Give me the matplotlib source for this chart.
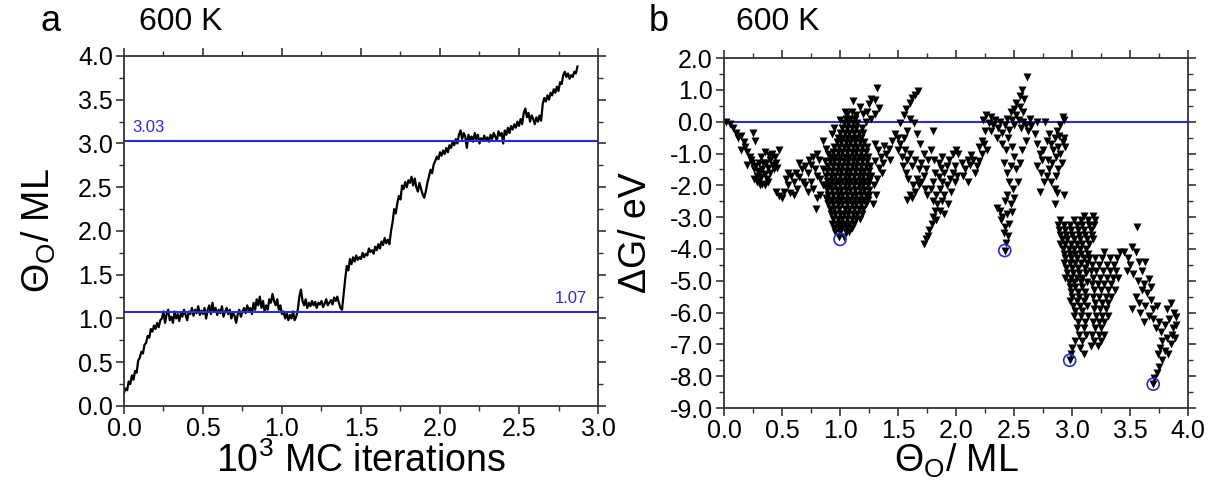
import numpy as np
import matplotlib
matplotlib.use("Agg")
import matplotlib.pyplot as plt
from matplotlib.ticker import MultipleLocator, FormatStrFormatter

plt.rcParams['font.family'] = ['Liberation Sans', 'DejaVu Sans']
plt.rcParams['mathtext.fontset'] = 'custom'
plt.rcParams['mathtext.rm'] = 'Liberation Sans'

# ---------------- panel a: coverage vs MC iterations ----------------
mc_step = 0.01  # 10^3 MC iterations per sample
coverage = [
    0.15, 0.20, 0.18, 0.28, 0.25, 0.35, 0.30, 0.40, 0.38, 0.52,
    0.55, 0.62, 0.60, 0.70, 0.72, 0.80, 0.78, 0.88, 0.85, 0.92,
    0.88, 0.95, 0.90, 0.98, 1.00, 1.08, 0.95, 1.05, 1.10, 0.98,
    1.02, 0.95, 1.08, 1.00, 1.05, 0.97, 1.06, 1.02, 1.10, 1.04,
    0.98, 1.08, 1.05, 1.12, 1.03, 1.10, 1.06, 1.14, 1.04, 1.09,
    1.05, 1.12, 1.00, 1.10, 1.15, 1.05, 1.18, 1.08, 1.12, 1.04,
    1.10, 1.06, 1.14, 1.02, 1.08, 1.12, 1.05, 1.10, 1.00, 1.07,
    1.03, 0.95, 1.05, 1.10, 1.02, 1.08, 1.12, 1.06, 1.15, 1.09,
    1.12, 1.05, 1.18, 1.10, 1.22, 1.15, 1.25, 1.12, 1.20, 1.08,
    1.15, 1.10, 1.22, 1.18, 1.28, 1.20, 1.15, 1.22, 1.10, 1.15,
    1.05, 1.08, 1.00, 1.06, 0.98, 1.04, 1.00, 1.08, 0.98, 1.02,
    1.10, 1.25, 1.33, 1.20, 1.15, 1.22, 1.12, 1.18, 1.14, 1.20,
    1.15, 1.19, 1.12, 1.18, 1.16, 1.20, 1.13, 1.17, 1.22, 1.15,
    1.18, 1.21, 1.16, 1.24, 1.20, 1.25, 1.18, 1.12, 1.10, 1.28,
    1.45, 1.60, 1.55, 1.68, 1.62, 1.70, 1.65, 1.72, 1.67, 1.70,
    1.68, 1.75, 1.70, 1.74, 1.72, 1.80, 1.76, 1.78, 1.74, 1.82,
    1.78, 1.85, 1.80, 1.88, 1.84, 1.92, 1.86, 1.90, 1.85, 2.00,
    2.10, 2.25, 2.20, 2.32, 2.40, 2.36, 2.52, 2.48, 2.56, 2.50,
    2.58, 2.55, 2.62, 2.52, 2.60, 2.50, 2.45, 2.55, 2.48, 2.42,
    2.38, 2.45, 2.55, 2.62, 2.70, 2.66, 2.76, 2.80, 2.85, 2.82,
    2.90, 2.86, 2.92, 2.88, 2.95, 2.90, 2.98, 2.95, 3.02, 2.98,
    3.05, 3.00, 3.10, 3.15, 3.05, 3.12, 3.08, 2.95, 3.10, 3.04,
    3.08, 3.02, 3.12, 3.05, 3.10, 3.00, 3.06, 3.03, 3.09, 3.04,
    3.07, 3.02, 3.10, 3.05, 3.12, 3.08, 3.03, 3.14, 3.09, 3.12,
    3.00, 3.15, 3.10, 3.18, 3.12, 3.20, 3.16, 3.22, 3.18, 3.25,
    3.20, 3.28, 3.22, 3.35, 3.40, 3.30, 3.35, 3.25, 3.32, 3.28,
    3.22, 3.30, 3.25, 3.32, 3.26, 3.45, 3.52, 3.48, 3.55, 3.50,
    3.58, 3.55, 3.62, 3.58, 3.65, 3.60, 3.70, 3.68, 3.78, 3.82,
    3.76, 3.80, 3.74, 3.78, 3.76, 3.82, 3.80, 3.88,
]
plateau_levels = [1.07, 3.03]
plateau_labels = ["1.07", "3.03"]

# ---------------- panel b: dG vs coverage ----------------
path_x = [
    # start region
    0.02, 0.05, 0.08, 0.10, 0.12, 0.15, 0.17, 0.18, 0.20, 0.22, 0.15, 0.25, 0.27, 0.24, 0.26,
    0.28, 0.30, 0.32, 0.28, 0.30, 0.33, 0.35, 0.37, 0.30, 0.32, 0.35, 0.36, 0.38, 0.40, 0.42,
    0.43, 0.45, 0.44, 0.47, 0.40, 0.38, 0.35, 0.33, 0.23, 0.20, 0.27, 0.31, 0.29, 0.26, 0.34,
    0.41, 0.46, 0.39,
    # band 0.45-0.92
    0.45, 0.47, 0.50, 0.52, 0.55, 0.57, 0.60, 0.58, 0.62, 0.63, 0.65, 0.67, 0.68, 0.70, 0.72,
    0.73, 0.75, 0.77, 0.80, 0.82, 0.78, 0.80, 0.75, 0.77, 0.80, 0.79, 0.83, 0.85, 0.85, 0.87,
    0.88, 0.85, 0.90, 0.70, 0.60, 0.55, 0.53, 0.65, 0.72, 0.83, 0.90, 0.90, 0.88,
    # above main blob
    1.00, 1.04, 1.06, 1.11, 1.10, 1.14, 1.17, 1.20, 1.23, 1.25, 1.27, 1.30, 1.32, 1.34, 1.30,
    1.27, 1.22, 0.95, 0.93,
    # 1.28-1.5
    1.30, 1.33, 1.35, 1.37, 1.34, 1.32, 1.40, 1.42, 1.45, 1.47, 1.50, 1.38, 1.43, 1.36, 1.30,
    1.29, 1.31, 1.28,
    # 1.5-1.8
    1.52, 1.55, 1.57, 1.60, 1.62, 1.65, 1.67, 1.60, 1.64, 1.58, 1.55, 1.52, 1.50, 1.53, 1.56,
    1.58, 1.60, 1.62, 1.65, 1.68, 1.70, 1.72, 1.66, 1.63, 1.60, 1.58, 1.62, 1.65, 1.68, 1.70,
    1.74, 1.76, 1.78, 1.80, 1.57, 1.54, 1.59, 1.69, 1.66, 1.72, 1.75, 1.73,
    # 1.7-2.05
    1.72, 1.74, 1.76, 1.77, 1.79, 1.80, 1.82, 1.84, 1.80, 1.83, 1.86, 1.88, 1.85, 1.90, 1.92,
    1.94, 1.97, 2.00, 1.88, 1.90, 1.92, 1.95, 1.97, 1.99, 1.86, 1.90, 1.82, 1.80, 1.78, 1.85,
    1.88, 1.93, 1.96, 1.99, 2.01, 1.83, 1.87, 1.81,
    # 2.0-2.25
    2.02, 2.05, 2.08, 2.10, 2.12, 2.15, 2.18, 2.20, 2.22, 2.16, 2.06, 2.10, 2.24, 2.27, 2.13,
    # around zero 2.2-2.65
    2.23, 2.26, 2.28, 2.30, 2.32, 2.30, 2.34, 2.36, 2.38, 2.40, 2.42, 2.44, 2.46, 2.48, 2.50,
    2.52, 2.54, 2.56, 2.58, 2.60, 2.50, 2.52, 2.55, 2.57, 2.59, 2.55, 2.61, 2.58, 2.47, 2.45,
    2.40, 2.35, 2.25, 2.22, 2.20, 2.62, 2.60, 2.64, 2.43, 2.48,
    # V branch to -4
    2.41, 2.44, 2.47, 2.50, 2.52, 2.46, 2.49, 2.44, 2.47, 2.42, 2.38, 2.35, 2.40, 2.44, 2.46,
    2.42, 2.45, 2.43, 2.41, 2.39, 2.48, 2.50, 2.53, 2.55, 2.57, 2.42,
    # 2.62-2.97
    2.65, 2.68, 2.70, 2.72, 2.70, 2.74, 2.75, 2.78, 2.80, 2.82, 2.85, 2.87, 2.90, 2.92, 2.93,
    2.88, 2.90, 2.86, 2.83, 2.80, 2.78, 2.82, 2.85, 2.87, 2.85, 2.93, 2.94, 2.91, 2.93, 2.72,
    2.76, 2.73, 2.79, 2.84, 2.89, 2.77, 2.70, 2.92, 2.88, 2.86,
    # 3.45-3.9 tail
    3.56, 3.52, 3.55, 3.48, 3.50, 3.58, 3.60, 3.53, 3.57, 3.62, 3.66, 3.60, 3.65, 3.55, 3.58,
    3.63, 3.68, 3.70, 3.73, 3.66, 3.70, 3.75, 3.72, 3.77, 3.80, 3.84, 3.88, 3.90, 3.85, 3.82,
    3.87, 3.82, 3.78, 3.85, 3.80, 3.76, 3.83, 3.78, 3.75, 3.73, 3.71, 3.70, 3.86, 3.89, 3.74,
    3.62, 3.59, 3.52, 3.45, 3.47, 3.63, 3.68, 3.90,
]
path_dg = [
    -0.02, -0.08, -0.20, -0.35, -0.50, -0.45, -0.65, -0.80, -0.95, -1.10, -0.90, -0.35, -0.60, -1.30, -1.50,
    -1.70, -1.85, -1.75, -1.90, -1.60, -1.50, -1.65, -1.80, -1.30, -1.10, -0.95, -1.30, -1.45, -1.20, -1.35,
    -1.50, -1.30, -1.10, -0.90, -1.60, -1.90, -2.00, -1.95, -1.20, -1.35, -1.40, -2.00, -1.55, -1.80, -1.30,
    -1.00, -1.45, -1.05,
    -2.20, -2.35, -2.40, -2.20, -2.00, -2.25, -1.90, -1.70, -1.60, -2.10, -1.75, -1.50, -1.90, -1.40, -1.60,
    -1.20, -1.35, -1.10, -1.00, -1.20, -1.50, -1.70, -1.90, -2.10, -2.40, -2.75, -2.30, -2.00, -1.50, -1.25,
    -0.85, -0.60, -1.00, -2.00, -2.30, -1.60, -1.80, -1.30, -2.20, -1.80, -2.00, -2.60, -2.40,
    0.05, 0.30, 0.25, 0.64, 0.30, 0.20, 0.45, 0.25, 0.32, 0.55, 0.70, 0.69, 1.06, 0.43, 0.25,
    0.10, 0.00, -0.20, -0.40,
    -0.70, -0.90, -1.10, -1.30, -1.45, -1.80, -1.00, -0.85, -0.60, -0.40, -0.50, -0.75, -1.20, -1.60, -1.25,
    -2.00, -2.30, -2.60,
    -0.05, 0.20, 0.40, 0.60, 0.75, 0.85, 0.95, 0.10, -0.05, -0.30, -0.50, -0.70, -0.90, -1.10, -0.90,
    -1.20, -1.00, -1.40, -1.20, -1.50, -1.30, -1.70, -1.80, -2.00, -2.30, -2.45, -2.40, -2.20, -2.00, -1.90,
    -1.50, -1.20, -0.90, -0.30, -1.60, -1.40, -1.80, -0.70, -0.40, -1.00, -2.30, -2.10,
    -3.85, -3.70, -3.60, -3.40, -3.20, -3.00, -2.80, -2.60, -2.50, -2.30, -2.10, -1.90, -1.75, -1.60, -1.40,
    -1.20, -1.00, -0.90, -2.50, -2.30, -2.00, -1.80, -1.60, -1.40, -2.80, -2.90, -1.60, -1.90, -2.10, -1.30,
    -1.10, -2.60, -2.20, -1.90, -1.70, -3.10, -1.45, -1.20,
    -1.00, -1.30, -1.50, -1.20, -1.35, -1.20, -1.40, -1.25, -1.00, -1.60, -1.70, -1.90, -0.70, -0.90, -1.05,
    0.05, 0.20, -0.05, 0.15, -0.10, -0.30, 0.05, -0.20, 0.00, -0.35, -0.10, 0.10, -0.25, 0.05, -0.10,
    0.20, 0.05, -0.20, 0.00, -0.10, 0.40, 0.60, 0.80, 1.00, 0.70, 0.45, 1.42, 0.30, 0.30, -0.50,
    -0.70, -0.50, -0.30, -0.60, -0.80, -0.30, -0.60, 0.10, -0.90, -0.80,
    -1.30, -1.60, -1.40, -1.10, -1.50, -1.90, -2.10, -2.30, -2.60, -2.50, -2.80, -2.70, -3.00, -2.90, -3.20,
    -3.30, -3.60, -3.80, -3.50, -3.10, -2.85, -2.40, -1.90, -1.30, -0.90, -4.05,
    -0.15, -0.40, -0.70, -1.00, -1.40, -1.20, -0.90, -0.60, -0.40, -0.70, -0.50, -0.30, -0.10, 0.15, 0.05,
    -0.80, -1.00, -1.10, -1.30, -1.50, -1.70, -1.90, -2.10, -2.25, -2.60, -0.50, -0.80, -1.30, -2.30, -2.20,
    -1.90, -1.60, -1.20, -0.90, -0.45, 0.00, 0.00, -0.65, -1.50, -1.70,
    -3.30, -3.95, -4.10, -4.30, -4.50, -4.40, -4.70, -4.80, -5.00, -5.10, -4.95, -5.30, -5.40, -5.50, -5.70,
    -5.80, -5.60, -5.90, -5.80, -6.10, -6.20, -6.30, -6.50, -6.60, -6.40, -6.20, -6.00, -6.15, -5.70, -5.90,
    -6.50, -6.80, -6.90, -7.00, -7.20, -7.10, -7.30, -7.50, -7.70, -7.90, -8.05, -8.25, -6.70, -6.80, -7.30,
    -6.30, -6.00, -5.90, -4.10, -4.70, -4.40, -5.20, -6.40,
]

# dense cloud near 1 ML: dG level -> coverages sampled at that level
cloud_1ml = {
    -3.62: [0.99, 1.03],
    -3.48: [0.96, 1.00, 1.05, 1.08],
    -3.35: [0.95, 0.99, 1.02, 1.06, 1.10],
    -3.20: [0.93, 0.97, 1.01, 1.04, 1.08, 1.12],
    -3.05: [0.94, 0.98, 1.02, 1.06, 1.10, 1.14, 1.17],
    -2.90: [0.92, 0.96, 1.00, 1.03, 1.07, 1.11, 1.15, 1.19],
    -2.75: [0.91, 0.95, 0.99, 1.04, 1.08, 1.12, 1.16, 1.20],
    -2.60: [0.90, 0.94, 0.98, 1.02, 1.06, 1.10, 1.14, 1.18, 1.22],
    -2.45: [0.89, 0.93, 0.97, 1.01, 1.05, 1.09, 1.13, 1.17, 1.21, 1.24],
    -2.30: [0.90, 0.94, 0.98, 1.02, 1.06, 1.10, 1.14, 1.18, 1.22, 1.25],
    -2.15: [0.89, 0.93, 0.97, 1.01, 1.05, 1.09, 1.13, 1.17, 1.21, 1.25],
    -2.00: [0.88, 0.92, 0.96, 1.00, 1.04, 1.08, 1.12, 1.16, 1.20, 1.24],
    -1.85: [0.89, 0.93, 0.97, 1.01, 1.05, 1.09, 1.13, 1.17, 1.21, 1.25],
    -1.70: [0.88, 0.92, 0.96, 1.00, 1.04, 1.08, 1.12, 1.16, 1.20, 1.24, 1.27],
    -1.55: [0.89, 0.93, 0.97, 1.01, 1.05, 1.09, 1.13, 1.17, 1.21, 1.25],
    -1.40: [0.90, 0.94, 0.98, 1.02, 1.06, 1.10, 1.14, 1.18, 1.22, 1.26],
    -1.25: [0.91, 0.95, 0.99, 1.03, 1.07, 1.11, 1.15, 1.19, 1.23],
    -1.10: [0.92, 0.96, 1.00, 1.04, 1.08, 1.12, 1.16, 1.20, 1.24],
    -0.95: [0.94, 0.98, 1.02, 1.06, 1.10, 1.14, 1.18, 1.22],
    -0.80: [0.95, 0.99, 1.03, 1.07, 1.11, 1.15, 1.19, 1.23],
    -0.65: [0.97, 1.01, 1.05, 1.09, 1.13, 1.17, 1.21],
    -0.50: [0.98, 1.02, 1.06, 1.10, 1.14, 1.18],
    -0.35: [1.00, 1.04, 1.08, 1.12, 1.16, 1.20],
    -0.20: [1.02, 1.06, 1.10, 1.14, 1.19],
    -0.05: [1.03, 1.07, 1.11, 1.15],
    0.08: [1.05, 1.09, 1.13],
}
# dense cloud near 3 ML
cloud_3ml = {
    -2.95: [3.10, 3.18],
    -3.10: [2.90, 3.02, 3.08, 3.14, 3.20],
    -3.25: [2.88, 2.93, 2.98, 3.04, 3.09, 3.15, 3.19],
    -3.40: [2.89, 2.94, 2.99, 3.05, 3.10, 3.16],
    -3.55: [2.90, 2.95, 3.00, 3.06, 3.11, 3.17],
    -3.70: [2.91, 2.96, 3.02, 3.07, 3.13, 3.18],
    -3.85: [2.90, 2.94, 2.99, 3.04, 3.09, 3.15],
    -4.00: [2.92, 2.97, 3.02, 3.07, 3.12],
    -4.15: [2.93, 2.98, 3.03, 3.08, 3.14],
    -4.30: [2.94, 2.99, 3.04, 3.10, 3.15],
    -4.45: [2.93, 2.98, 3.03, 3.08, 3.13],
    -4.60: [2.95, 3.00, 3.05, 3.11],
    -4.75: [2.96, 3.01, 3.06, 3.12],
    -4.90: [2.94, 2.99, 3.04, 3.09],
    -5.05: [2.97, 3.02, 3.08, 3.13],
    -5.20: [2.98, 3.03, 3.09],
    -5.35: [2.99, 3.05, 3.11],
    -5.50: [3.00, 3.06, 3.12],
    -5.65: [2.98, 3.04, 3.10],
    -5.80: [3.01, 3.07, 3.13],
    -5.95: [3.03, 3.09],
    -6.10: [3.02, 3.08, 3.14],
    -6.30: [3.05, 3.11],
    -6.50: [3.04, 3.10],
    -6.70: [3.06, 3.12],
    -6.90: [3.03, 3.09],
    -7.10: [3.00, 3.07],
    -7.30: [2.99, 3.10],
    -7.50: [2.98],
}
cloud_3p3ml = {
    -4.10: [3.28, 3.41],
    -4.30: [3.20, 3.26, 3.33, 3.39],
    -4.50: [3.17, 3.23, 3.30, 3.36],
    -4.70: [3.16, 3.21, 3.27, 3.33, 3.38],
    -4.90: [3.18, 3.24, 3.30, 3.35, 3.40],
    -5.10: [3.17, 3.22, 3.28, 3.34],
    -5.30: [3.19, 3.25, 3.31, 3.37],
    -5.50: [3.18, 3.23, 3.29, 3.34],
    -5.70: [3.20, 3.26, 3.31],
    -5.90: [3.19, 3.24, 3.29],
    -6.10: [3.21, 3.26, 3.31],
    -6.30: [3.18, 3.23, 3.28],
    -6.50: [3.20, 3.25],
    -6.70: [3.17, 3.23, 3.28],
    -6.90: [3.19, 3.25],
    -7.05: [3.16, 3.22],
}
minima_x = [1.00, 2.42, 2.98, 3.70]
minima_dg = [-3.70, -4.05, -7.50, -8.25]

BLUE = '#2a2ad8'
TICK_FS = 18
LABEL_FS = 27

fig = plt.figure(figsize=(12.13, 4.84), dpi=100)
ax1 = fig.add_axes([0.1022, 0.1612, 0.3908, 0.7231])
ax2 = fig.add_axes([0.5969, 0.157, 0.3825, 0.723])

# panel a
cov = np.array(coverage)
iters = np.arange(len(cov)) * mc_step
ax1.plot(iters, cov, color='black', lw=1.6)
for lev in plateau_levels:
    ax1.axhline(lev, color=BLUE, lw=1.5)
ax1.text(0.05, 3.03 + 0.07, plateau_labels[1], color=BLUE, fontsize=12, ha='left', va='bottom')
ax1.text(2.93, 1.07 + 0.07, plateau_labels[0], color=BLUE, fontsize=12, ha='right', va='bottom')
ax1.set_xlim(0, 3.0)
ax1.set_ylim(0, 4.0)
ax1.xaxis.set_major_locator(MultipleLocator(0.5))
ax1.xaxis.set_minor_locator(MultipleLocator(0.25))
ax1.yaxis.set_major_locator(MultipleLocator(0.5))
ax1.yaxis.set_minor_locator(MultipleLocator(0.25))
ax1.xaxis.set_major_formatter(FormatStrFormatter('%.1f'))
ax1.yaxis.set_major_formatter(FormatStrFormatter('%.1f'))
ax1.set_xlabel('10$^\\mathregular{3}$ MC iterations', fontsize=LABEL_FS)
ax1.set_ylabel('Θ$_\\mathregular{O}$/ ML', fontsize=LABEL_FS)
ax1.xaxis.set_label_coords(0.5, -0.105)
ax1.yaxis.set_label_coords(-0.14, 0.5)

# panel b
bx, by = list(path_x), list(path_dg)
for cloud in (cloud_1ml, cloud_3ml, cloud_3p3ml):
    for lev, xs in cloud.items():
        bx.extend(xs)
        by.extend([lev] * len(xs))
ax2.axhline(0.0, color=BLUE, lw=1.5, zorder=1)
ax2.scatter(bx, by, marker='v', s=33, color='black', linewidths=0, zorder=2)
ax2.scatter(minima_x, minima_dg, marker='o', s=75, facecolors='none', edgecolors=BLUE, linewidths=1.2, zorder=3)
ax2.set_xlim(0, 4.0)
ax2.set_ylim(-9.0, 2.0)
ax2.xaxis.set_major_locator(MultipleLocator(0.5))
ax2.xaxis.set_minor_locator(MultipleLocator(0.25))
ax2.yaxis.set_major_locator(MultipleLocator(1.0))
ax2.yaxis.set_minor_locator(MultipleLocator(0.5))
ax2.xaxis.set_major_formatter(FormatStrFormatter('%.1f'))
ax2.yaxis.set_major_formatter(FormatStrFormatter('%.1f'))
ax2.set_xlabel('Θ$_\\mathregular{O}$/ ML', fontsize=LABEL_FS)
ax2.set_ylabel('ΔG/ eV', fontsize=LABEL_FS)
ax2.xaxis.set_label_coords(0.5, -0.095)
ax2.yaxis.set_label_coords(-0.15, 0.5)

for ax in (ax1, ax2):
    for sp in ax.spines.values():
        sp.set_linewidth(1.3)
        sp.set_color('#333333')
    ax.tick_params(which='both', direction='out', top=True, right=True, color='#333333',
                   labelsize=TICK_FS, pad=2)
    ax.tick_params(which='major', length=6, width=1.2)
    ax.tick_params(which='minor', length=3.5, width=1.0)

fig.text(0.033, 0.955, 'a', fontsize=26, ha='left', va='center')
fig.text(0.115, 0.955, '600 K', fontsize=23, ha='left', va='center')
fig.text(0.535, 0.955, 'b', fontsize=26, ha='left', va='center')
fig.text(0.607, 0.955, '600 K', fontsize=23, ha='left', va='center')

fig.savefig('out.png', dpi=100)
